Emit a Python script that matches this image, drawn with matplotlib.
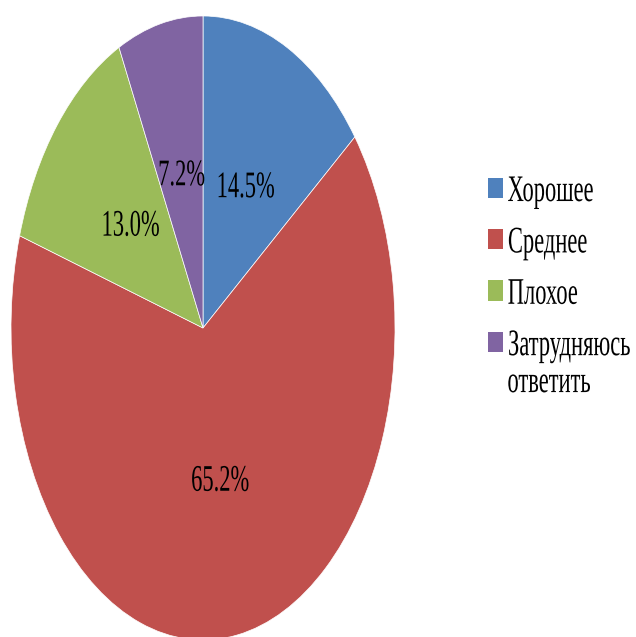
import matplotlib
matplotlib.use('Agg')
import matplotlib.pyplot as plt
from matplotlib import patheffects
from matplotlib.patches import Patch
from matplotlib.transforms import Affine2D

categories = ['Хорошее', 'Среднее', 'Плохое', 'Затрудняюсь']
extra_line = 'ответить'
values = [14.5, 65.2, 13.0, 7.2]
colors = ['#4F81BD', '#C0504D', '#9BBB59', '#8064A2']

FONT = 'Liberation Serif'
SQX = 0.6  # the reference text is squeezed horizontally


class Squeeze(patheffects.AbstractPathEffect):
    # narrow the glyphs horizontally, around the text centre or left edge
    def __init__(self, sx=SQX, anchor='center'):
        super().__init__()
        self.sx = sx
        self.anchor = anchor

    def draw_path(self, renderer, gc, tpath, affine, rgbFace=None):
        ext = tpath.get_extents(affine)
        if self.anchor == 'left':
            x0 = ext.x0
        else:
            x0 = (ext.x0 + ext.x1) / 2
        aff = affine + Affine2D().translate(-x0, 0).scale(self.sx, 1).translate(x0, 0)
        renderer.draw_path(gc, tpath, aff, rgbFace)


fig = plt.figure(figsize=(6.36, 6.37), dpi=100)
ax = fig.add_axes([0.0173, -0.0047, 0.6038, 0.9796])

total = sum(values)
wedges, texts, autotexts = ax.pie(
    values, colors=colors, startangle=90, counterclock=False,
    autopct=lambda p: '%.1f%%' % (p * total / 100), pctdistance=0.5,
    wedgeprops=dict(edgecolor='white', linewidth=0.5),
    textprops=dict(fontsize=27, family=FONT, color='black'))
ax.set_aspect('auto')
ax.set_xlim(-1, 1)
ax.set_ylim(-1, 1)
ax.axis('off')

for t in autotexts:
    t.set_path_effects([Squeeze()])

handles = [Patch(facecolor=c, edgecolor='none') for c in colors]
leg = fig.legend(handles, categories, loc='upper left',
                 bbox_to_anchor=(0.767, 0.726), frameon=False,
                 prop=dict(family=FONT, size=27), borderpad=0,
                 borderaxespad=0, handlelength=0.4, handleheight=0.45,
                 handletextpad=0.12, labelspacing=0.45)
for t in leg.get_texts():
    t.set_path_effects([Squeeze(anchor='left')])

t2 = fig.text(0.797, 0.399, extra_line, family=FONT, fontsize=27,
              ha='left', va='center')
t2.set_path_effects([Squeeze(anchor='left')])

fig.savefig('out.png', dpi=100)
